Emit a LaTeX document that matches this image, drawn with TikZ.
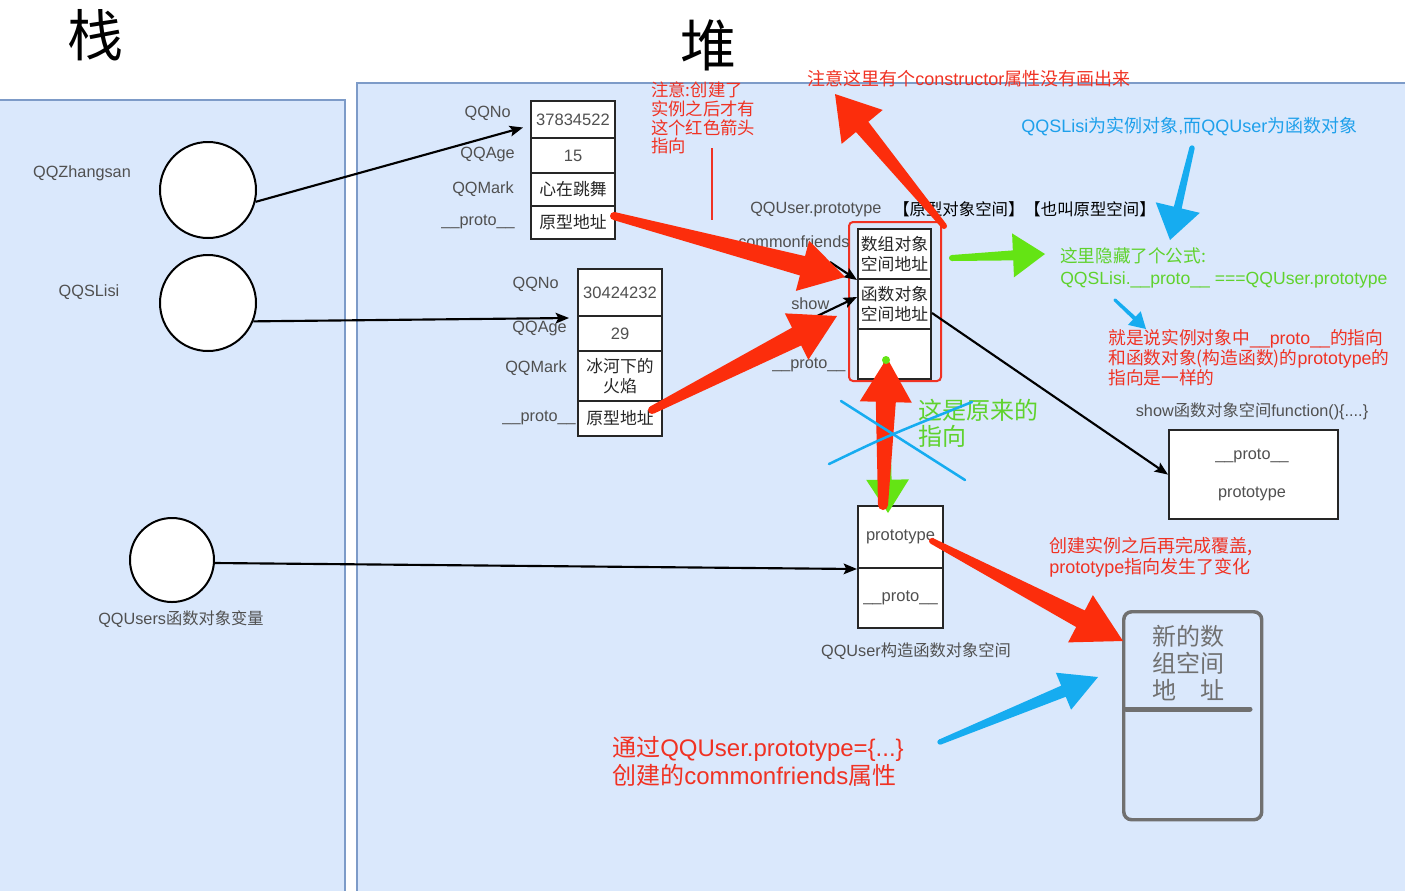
\documentclass[tikz,border=0pt]{standalone}
\usepackage{fontspec}
\setmainfont{Liberation Sans}
\newfontfamily\zh{Noto Sans CJK SC}
\usetikzlibrary{calc,arrows.meta}

\definecolor{panelfill}{RGB}{218,232,252}
\definecolor{panelline}{RGB}{125,155,200}
\definecolor{txtgray}{RGB}{80,80,80}
\definecolor{mkred}{RGB}{252,45,12}
\definecolor{txtred}{RGB}{240,50,35}
\definecolor{mkblue}{RGB}{22,172,240}
\definecolor{txtblue}{RGB}{30,160,235}
\definecolor{mkgreen}{RGB}{100,228,20}
\definecolor{txtgreen}{RGB}{95,210,45}
\definecolor{boxgray}{RGB}{112,112,112}

% #1 colour, #2 tail, #3 tip, #4 tail half width, #5 shaft half width at head, #6 head length, #7 head half width
\newcommand\fatarrow[7]{%
  \coordinate (fa-a) at #2;
  \coordinate (fa-b) at #3;
  \coordinate (fa-h) at ($(fa-b)!#6!(fa-a)$);
  \fill[#1] ($(fa-a)!#4!-90:(fa-b)$) -- ($(fa-h)!#5!-90:(fa-b)$) -- ($(fa-h)!#7!-90:(fa-b)$)
     -- (fa-b) -- ($(fa-h)!#7!90:(fa-b)$) -- ($(fa-h)!#5!90:(fa-b)$) -- ($(fa-a)!#4!90:(fa-b)$) -- cycle;
  \fill[#1] (fa-a) circle[radius=#4];
}

\tikzset{
  panel/.style={fill=panelfill, draw=panelline, line width=1.2pt},
  cell/.style={draw=black!85, fill=white, line width=1.5pt, inner sep=0pt, anchor=north west,
    align=center, text=txtgray, font=\fontsize{12.4}{15}\selectfont},
  zhcell/.style={cell, text=black!85, font=\zh\fontsize{12.6}{15}\selectfont},
  lbl/.style={text=txtgray, inner sep=0pt, font=\fontsize{12.2}{14}\selectfont},
  var/.style={circle, draw=black, fill=white, line width=1.5pt, inner sep=0pt, minimum size=72pt},
  ptr/.style={line width=1.6pt, -{Stealth[length=10pt,width=8pt,inset=2pt]}},
  note/.style={inner sep=0pt, anchor=west, align=left},
}

\begin{document}
\begin{tikzpicture}[x=0.75pt,y=-0.75pt]
\useasboundingbox (0,0) rectangle (1405,890);
\fill[white] (0,0) rectangle (1405,890);
\draw[panel] (-5,100) rectangle (345,900);
\draw[panel] (357,83) rectangle (1410,900);

% titles
\node[font=\zh\fontsize{42}{42}\selectfont] (tzhan) at (95,35) {栈};
\node[font=\zh\fontsize{42}{42}\selectfont] (tdui) at (708,45) {堆};

% stack variables
\node[var] (zs) at (208,190) {};
\node[var] (ls) at (208,303) {};
\node[var, minimum size=63pt] (qu) at (172,560) {};
\node[lbl] (zsl) at (82,173) {QQZhangsan};
\node[lbl] (lsl) at (89,292) {QQSLisi};
\node[lbl] (qul) at (181,619) {QQUsers{\zh 函数对象变量}};

% QQZhangsan object
\node[cell, minimum width=63pt, minimum height=27.75pt] (z1) at (530,100) {37834522};
\node[cell, minimum width=63pt, minimum height=26.25pt] (z2) at (530,137) {15};
\node[zhcell, minimum width=63pt, minimum height=24.75pt] (z3) at (530,172) {心在跳舞};
\node[zhcell, minimum width=63pt, minimum height=24.75pt] (z4) at (530,205) {原型地址};
\node[lbl, anchor=east] (zl1) at (511,113) {QQNo};
\node[lbl, anchor=east] (zl2) at (515,155) {QQAge};
\node[lbl, anchor=east] (zl3) at (514,189) {QQMark};
\node[lbl, anchor=east] (zl4) at (515,222) {\_\_proto\_\_};

% QQSLisi object
\node[cell, minimum width=63pt, minimum height=35.25pt] (l1) at (577,268) {30424232};
\node[cell, minimum width=63pt, minimum height=26.25pt] (l2) at (577,315) {29};
\node[zhcell, minimum width=63pt, minimum height=37.5pt] (l3) at (577,350) {冰河下的\\火焰};
\node[zhcell, minimum width=63pt, minimum height=26.25pt] (l4) at (577,400) {原型地址};
\node[lbl, anchor=east] (ll1) at (559,284) {QQNo};
\node[lbl, anchor=east] (ll2) at (567,328) {QQAge};
\node[lbl, anchor=east] (ll3) at (567,368) {QQMark};
\node[lbl, anchor=east] (ll4) at (576,418) {\_\_proto\_\_};

% prototype object
\node[zhcell, minimum width=54.75pt, minimum height=37.5pt] (p1) at (857,228) {数组对象\\空间地址};
\node[zhcell, minimum width=54.75pt, minimum height=37.5pt] (p2) at (857,278) {函数对象\\空间地址};
\node[cell, minimum width=54.75pt, minimum height=37.5pt] (p3) at (857,328) {};
\draw[txtred, line width=1.5pt, rounded corners=3pt] (849,222) rectangle (941,381);
\node[lbl, anchor=west] (ppl) at (750,209) {QQUser.prototype};
\node[anchor=west, inner sep=0pt, text=black, font=\zh\fontsize{12.3}{14}\selectfont] (ppl2) at (893,209) {【原型对象空间】【也叫原型空间】};
\node[lbl, anchor=west] (cfl) at (738,242) {commonfriends};
\node[lbl, anchor=west] (shl) at (791,304) {show};
\node[lbl, anchor=west] (prl) at (772,365) {\_\_proto\_\_};

% show function object
\node[draw=black!85, fill=white, line width=1.6pt, minimum width=126.75pt, minimum height=66.75pt,
  anchor=north west, inner sep=0pt] (sf) at (1168,429) {};
\node[lbl] (sfa) at (1252,456) {\_\_proto\_\_};
\node[lbl] (sfb) at (1252,494) {prototype};
\node[lbl] (sfl) at (1252,411) {show{\zh 函数对象空间}function()\{....\}};

% constructor object
\node[cell, minimum width=63.75pt, minimum height=46.5pt] (c1) at (857,505) {prototype};
\node[cell, minimum width=63.75pt, minimum height=45pt] (c2) at (857,567) {\_\_proto\_\_};
\node[lbl] (cl) at (916,651) {QQUser{\zh 构造函数对象空间}};

% new array object
\node[draw=boxgray, line width=2.6pt, rounded corners=6pt, minimum width=103.5pt, minimum height=156pt,
  anchor=north west, inner sep=0pt] (nb) at (1122,610) {};
\draw[boxgray, line width=3.75pt, line cap=round] (1126,709) -- (1250,709);
\node[text=boxgray, align=center, font=\zh\fontsize{18}{20}\selectfont] (nbt) at (1188,663) {新的数\\组空间\\地\hspace{1em}址};

% pointers
\draw[ptr] (zs.-14) -- ($(z1.west)+(-7,8)$);
\draw[ptr] (ls.-22) -- ($(l2.north west)+(-8,3)$);
\draw[ptr] (qu.-4) -- (c1.south west);
\coordinate (cfs) at (830,262);
\draw[ptr] (cfs) -- (p1.south west);
\coordinate (shs) at (813,318);
\draw[ptr] (shs) -- ($(p2.west)+(0,-7)$);
\draw[ptr] ($(p2.east)+(0,9)$) -- (sf.west);

% annotation texts
\node[inner sep=0pt, anchor=north west, align=left, text=txtred, font=\zh\fontsize{13}{14}\selectfont] (n1) at (651,82) {注意:创建了\\实例之后才有\\这个红色箭头\\指向};
\draw[txtred, line width=1.5pt] (712,148) -- (712,220);
\node[note, text=txtred, font=\fontsize{13.5}{15}\selectfont] (n2) at (807,79) {{\zh 注意这里有个}constructor{\zh 属性没有画出来}};
\node[note, text=txtblue, font=\fontsize{13.5}{15}\selectfont] (n3) at (1021,127) {QQSLisi{\zh 为实例对象},{\zh 而}QQUser{\zh 为函数对象}};
\node[note, text=txtgreen, font=\fontsize{13.2}{16.5}\selectfont] (n4) at (1060,268) {{\zh 这里隐藏了个公式:}\\QQSLisi.\_\_proto\_\_ ===QQUser.prototype};
\node[note, text=txtred, font=\fontsize{13.3}{15}\selectfont] (n5) at (1108,358) {{\zh 就是说实例对象中}\_\_proto\_\_{\zh 的指向}\\{\zh 和函数对象(构造函数)的}prototype{\zh 的}\\{\zh 指向是一样的}};
\node[note, text=txtred, font=\fontsize{13.5}{15.75}\selectfont] (n6) at (1049,557.5) {{\zh 创建实例之后再完成覆盖,}\\prototype{\zh 指向发生了变化}};
\node[note, text=txtred, font=\fontsize{18}{21}\selectfont] (n7) at (612,761) {{\zh 通过}QQUser.prototype=\{...\}\\{\zh 创建的}commonfriends{\zh 属性}};
\node[note, text=txtgreen, font=\zh\fontsize{18}{19.5}\selectfont] (n8) at (918,423) {这是原来的\\指向};

% markup arrows
\fatarrow{mkgreen}{(886,362)}{(888,513)}{2.25pt}{3pt}{25pt}{16pt}
\fatarrow{mkgreen}{(952,258)}{(1045,254)}{2.25pt}{3.75pt}{24pt}{16.5pt}
\fatarrow{mkred}{(944,226)}{(835,94)}{2.25pt}{6pt}{32pt}{20pt}
\fatarrow{mkred}{(614,216)}{(845,277)}{3pt}{7.5pt}{33pt}{19.5pt}
\fatarrow{mkred}{(652,410)}{(837,316)}{3pt}{7.5pt}{34pt}{19.5pt}
\fatarrow{mkred}{(883,505)}{(887,358)}{3.75pt}{7.5pt}{33pt}{19.5pt}
\fatarrow{mkred}{(932,541)}{(1123,641)}{2.25pt}{7pt}{36pt}{20pt}
\fatarrow{mkblue}{(940,742)}{(1098,677)}{2pt}{4.5pt}{28pt}{15pt}
\fatarrow{mkblue}{(1192,148)}{(1170,240)}{2pt}{3pt}{25pt}{17pt}
\fatarrow{mkblue}{(1115,300)}{(1146,329)}{1.2pt}{1.5pt}{12pt}{7pt}

% cross-out lines
\draw[mkblue, line width=1.9pt, line cap=round] (841,401) -- (965,480);
\draw[mkblue, line width=1.9pt, line cap=round] (829,464) .. controls (885,437) .. (972,402);
\fill[mkgreen] (886,360) circle[radius=3pt];
\end{tikzpicture}
\end{document}
